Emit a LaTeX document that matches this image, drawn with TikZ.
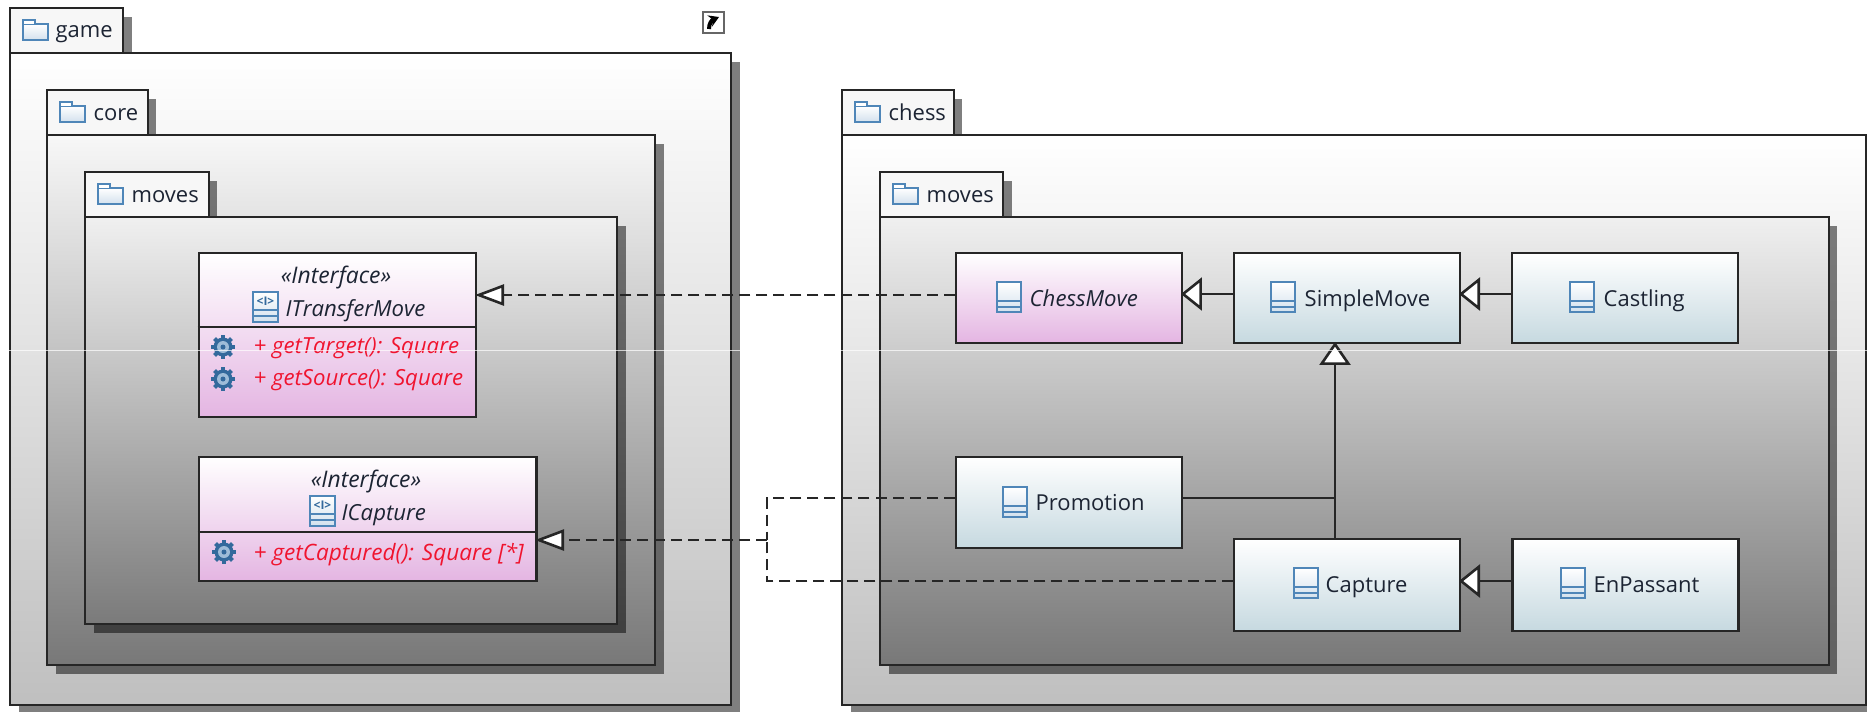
\documentclass[tikz,border=0pt]{standalone}
\usepackage{fontspec}
\setmainfont{Open Sans}
\usetikzlibrary{arrows.meta}
\definecolor{iconblue}{HTML}{4F86B8}
\definecolor{gearblue}{HTML}{33699C}
\definecolor{opsred}{HTML}{F0142F}
\definecolor{inktext}{HTML}{1C2433}
\definecolor{pinkend}{HTML}{E4B5E2}
\definecolor{blueend}{HTML}{C6D9E0}
\tikzset{
    pkgbody/.style={draw=black!85, line width=.28mm, top color=white},
    pkgtab/.style={draw=black!85, line width=.28mm, fill=white!97!black},
    pkgshadow/.style={fill=black, opacity=.5},
    classbox/.style={draw=black!85, line width=.28mm, minimum width=2.26cm, minimum height=.9cm, inner sep=0pt, top color=white},
    pinkbox/.style={classbox, bottom color=pinkend},
    bluebox/.style={classbox, bottom color=blueend},
    label/.style={anchor=base west, inner sep=0pt, text=inktext, font=\fontsize{6.25}{7.5}\selectfont},
    namei/.style={label, font=\fontsize{6.3}{7.5}\selectfont\itshape},
    stereo/.style={anchor=base, inner sep=0pt, text=inktext, font=\fontsize{6.5}{7.5}\selectfont\itshape},
    opstext/.style={anchor=base west, inner sep=0pt, text=opsred, font=\fontsize{6.3}{7.5}\selectfont\itshape},
    assoc/.style={draw=black!85, line width=.26mm, shorten >=-.25mm},
    realize/.style={assoc, dash pattern=on 1.1mm off .6mm},
    folder/.pic={
        \draw[iconblue, line width=.2mm, top color=white, bottom color=iconblue!25] (0,4) rectangle (25,20);
        \draw[iconblue, line width=.2mm, fill=white] (0,4) -- (0,0) -- (12,0) -- (12,4);
    },
    classicon/.pic={
        \draw[iconblue, line width=.2mm, top color=white, bottom color=iconblue!25] (0,0) rectangle (24,30);
        \draw[iconblue, line width=.2mm] (0,19) -- (24,19) (0,25) -- (24,25);
    },
    ifaceicon/.pic={
        \draw[iconblue, line width=.2mm, top color=white, bottom color=iconblue!25] (0,0) rectangle (25,30);
        \draw[iconblue, line width=.2mm] (0,18) -- (25,18) (0,24) -- (25,24);
        \node[inner sep=0pt, text=gearblue, font=\fontsize{3.4}{4}\selectfont\bfseries] at (12.5,9) {<I>};
    },
    gear/.pic={
        \foreach \a in {0,45,...,315} {
            \fill[gearblue, rotate=\a] (-2,-12) rectangle (2,0);
        }
        \fill[gearblue] (0,0) circle (9.5);
        \fill[iconblue!55] (0,0) circle (6);
        \fill[gearblue] (0,0) circle (2.5);
    }
}
\begin{document}
\begin{tikzpicture}[x=.01cm, y=-.01cm]
    \useasboundingbox (0,0) rectangle (1867,711);
    \clip (0,0) rectangle (1867,711);

    % game
    \fill[pkgshadow] (19,17) rectangle (132,62);
    \fill[pkgshadow] (19,62) rectangle (740,714);
    \draw[pkgbody, bottom color=black!25] (10,53) rectangle (731,705);
    \draw[pkgtab] (10,8) rectangle (123,53);
    \pic at (23,20) {folder};
    \node[label] (gamename) at (55,37) {game};

    % core
    \fill[pkgshadow] (56,99) rectangle (156,135);
    \fill[pkgshadow] (56,144) rectangle (664,674);
    \draw[pkgbody, top color=black!3, bottom color=black!53] (47,135) rectangle (655,665);
    \draw[pkgtab] (47,90) rectangle (148,135);
    \pic at (60,102) {folder};
    \node[label] (corename) at (93,120) {core};

    % game moves
    \fill[pkgshadow] (94,181) rectangle (217,217);
    \fill[pkgshadow] (94,226) rectangle (626,633);
    \draw[pkgbody, top color=black!6, bottom color=black!52] (85,217) rectangle (617,624);
    \draw[pkgtab] (85,172) rectangle (209,217);
    \pic at (98,184) {folder};
    \node[label] (gamemovesname) at (131,202) {moves};

    % chess
    \fill[pkgshadow] (851,99) rectangle (962,135);
    \fill[pkgshadow] (851,144) rectangle (1875,714);
    \draw[pkgbody, bottom color=black!25] (842,135) rectangle (1866,705);
    \draw[pkgtab] (842,90) rectangle (954,135);
    \pic at (855,102) {folder};
    \node[label] (chessname) at (888,120) {chess};

    % chess moves
    \fill[pkgshadow] (889,181) rectangle (1012,217);
    \fill[pkgshadow] (889,226) rectangle (1837,674);
    \draw[pkgbody, top color=black!6, bottom color=black!53] (880,217) rectangle (1829,665);
    \draw[pkgtab] (880,172) rectangle (1003,217);
    \pic at (893,184) {folder};
    \node[label] (chessmovesname) at (926,202) {moves};

    % open in new window mark
    \node[draw=black!60, fill=white, line width=.2mm, minimum size=2.05mm, inner sep=0pt] (linkmark) at (713.5,22.5) {};
    \draw[line width=.4mm, -{Stealth[length=1mm,width=1.2mm]}] (709,29) .. controls (709,23) and (712,20) .. (719,17);

    % interfaces
    \node[pinkbox, minimum width=2.77cm, minimum height=1.64cm] (itransfermove) at (337.5,335) {};
    \draw[assoc, shorten >=0pt] (itransfermove.west |- 0,327) -- (itransfermove.east |- 0,327);
    \node[stereo] (itransferstereo) at (336,283) {«Interface»};
    \pic at (253,292) {ifaceicon};
    \node[namei] (itransfername) at (285,316) {ITransferMove};
    \pic at (223,347) {gear};
    \pic at (223,379) {gear};
    \node[opstext] (gettarget) at (253,353) {+ getTarget(): Square};
    \node[opstext] (getsource) at (253,385) {+ getSource(): Square};

    \node[pinkbox, minimum width=3.37cm, minimum height=1.24cm] (icapture) at (367.5,519) {};
    \draw[assoc, shorten >=0pt] (icapture.west |- 0,532) -- (icapture.east |- 0,532);
    \node[stereo] (icapturestereo) at (366,487) {«Interface»};
    \pic at (310,496) {ifaceicon};
    \node[namei] (icapturename) at (341,520) {ICapture};
    \pic at (224,552) {gear};
    \node[opstext, font=\fontsize{6.42}{7.5}\selectfont\itshape] (getcaptured) at (253,560) {+ getCaptured(): Square [*]};

    % classes
    \node[pinkbox] (chessmove) at (1069,298) {};
    \pic at (997,282) {classicon};
    \node[namei] (chessmovename) at (1029,306) {ChessMove};

    \node[bluebox] (simplemove) at (1347,298) {};
    \pic at (1271,282) {classicon};
    \node[label] (simplemovename) at (1304,306) {SimpleMove};

    \node[bluebox] (castling) at (1625,298) {};
    \pic at (1570,282) {classicon};
    \node[label] (castlingname) at (1603,306) {Castling};

    \node[bluebox, minimum height=.91cm] (promotion) at (1069,502.5) {};
    \pic at (1003,487) {classicon};
    \node[label] (promotionname) at (1035,510) {Promotion};

    \node[bluebox, minimum height=.92cm] (capture) at (1347,585) {};
    \pic at (1294,568) {classicon};
    \node[label] (capturename) at (1325,592) {Capture};

    \node[bluebox, minimum height=.92cm] (enpassant) at (1625.5,585) {};
    \pic at (1561,568) {classicon};
    \node[label] (enpassantname) at (1593,592) {EnPassant};

    % connectors
    \coordinate (joint) at (767,540);
    \draw[realize, -{Triangle[length=2.9mm,width=2.1mm,fill=white]}] ([yshift=.3mm]chessmove.west) -- ([yshift=.3mm]chessmove.west -| itransfermove.east);
    \draw[realize, shorten >=0pt] ([yshift=.45mm]promotion.west) -| (joint);
    \draw[realize, shorten >=0pt] ([yshift=.4mm]capture.west) -| (joint);
    \draw[realize, -{Triangle[length=2.9mm,width=2.1mm,fill=white]}] (joint) -- (joint -| icapture.east);
    \draw[assoc, -{Triangle[length=2.1mm,width=3.3mm,fill=white]}] ([yshift=.4mm]simplemove.west) -- ([yshift=.4mm]simplemove.west -| chessmove.east);
    \draw[assoc, -{Triangle[length=2.1mm,width=3.3mm,fill=white]}] ([yshift=.4mm]castling.west) -- ([yshift=.4mm]castling.west -| simplemove.east);
    \draw[assoc, -{Triangle[length=2.1mm,width=3.3mm,fill=white]}] ([yshift=.4mm]enpassant.west) -- ([yshift=.4mm]enpassant.west -| capture.east);
    \draw[assoc, -{Triangle[length=2.3mm,width=3.1mm,fill=white]}] (capture.north -| 1335,0) -- (simplemove.south -| 1335,0);
    \draw[assoc, shorten >=0pt] ([yshift=.45mm]promotion.east) -- ([yshift=.45mm]promotion.east -| 1335,0);

    % seam across the picture
    \draw[white, opacity=.7, line width=.1mm] (0,350) -- (1867,350);
\end{tikzpicture}
\end{document}
